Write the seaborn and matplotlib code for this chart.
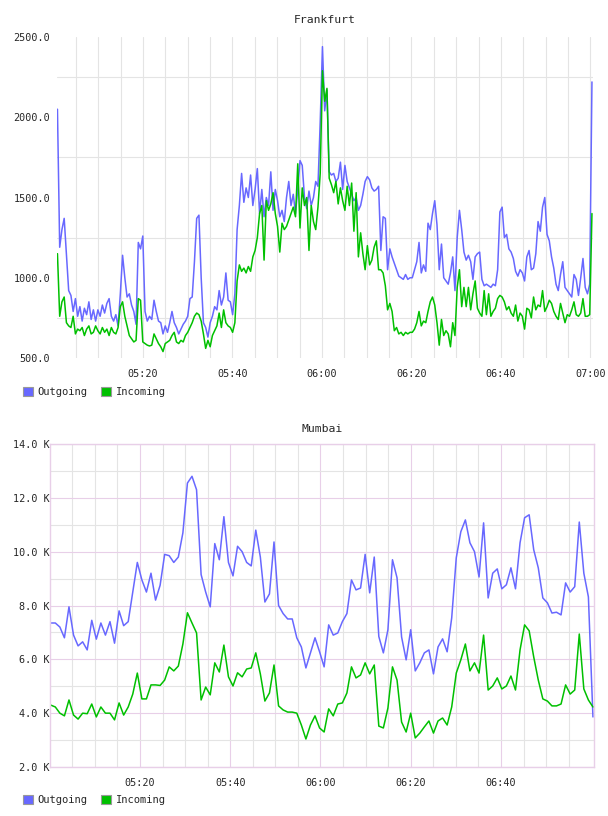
import numpy as np
import pandas as pd
import seaborn as sns
import matplotlib.pyplot as plt
import matplotlib.dates as mdates
from matplotlib.patches import Patch
from matplotlib.ticker import FixedLocator, FuncFormatter

day = '2024-01-01 '

# Frankfurt traffic, one sample every 30 s
fra_start = '05:00:53'
fra_end = '07:00:20'
fra_outgoing = [
    2050, 1190, 1300, 1370, 1150, 920, 890, 790, 870, 760, 820, 730, 810, 770, 850, 740, 800, 730, 800,
    760, 830, 780, 840, 870, 760, 730, 770, 700, 900, 1140, 1000, 880, 900, 830, 790, 710, 1220, 1180, 1260,
    790, 730, 760, 740, 860, 790, 730, 720, 650, 700, 660, 720, 790, 720, 690, 650, 680, 710, 730, 760,
    870, 880, 1100, 1370, 1390, 1000, 720, 690, 630, 720, 760, 820, 800, 920, 830, 880, 1030, 860, 850, 770,
    900, 1300, 1450, 1650, 1470, 1560, 1500, 1640, 1450, 1550, 1680, 1400, 1550, 1380, 1500, 1450, 1660, 1420, 1550, 1480,
    1380, 1420, 1350, 1500, 1600, 1450, 1520, 1400, 1550, 1730, 1700, 1500, 1430, 1540, 1450, 1500, 1600, 1570, 1970, 2440,
    2040, 2170, 1660, 1640, 1650, 1600, 1620, 1720, 1550, 1700, 1600, 1560, 1520, 1480, 1500, 1420, 1450, 1520, 1600, 1630,
    1610, 1560, 1540, 1550, 1570, 1170, 1380, 1370, 1050, 1180, 1130, 1090, 1050, 1010, 1000, 990, 1020, 990, 1000, 1000,
    1050, 1100, 1220, 1030, 1080, 1040, 1340, 1300, 1400, 1480, 1330, 1050, 1210, 1000, 980, 960, 1030, 1130, 920, 1250,
    1420, 1300, 1160, 1110, 1140, 1100, 990, 1130, 1150, 1160, 990, 950, 960, 950, 940, 960, 950, 1050, 1410, 1440,
    1250, 1270, 1180, 1160, 1120, 1040, 1010, 1050, 1030, 980, 1130, 1170, 1050, 1060, 1150, 1350, 1290, 1440, 1500, 1270,
    1230, 1130, 1060, 960, 920, 1020, 1100, 940, 920, 900, 880, 1020, 990, 890, 1000, 1120, 940, 900, 960, 2220,
]
fra_incoming = [
    1150, 760, 850, 880, 720, 700, 690, 760, 650, 680, 670, 690, 640, 680, 700, 650, 660, 700, 670,
    650, 690, 660, 680, 640, 690, 660, 650, 690, 820, 850, 760, 700, 640, 620, 600, 610, 870, 860, 600,
    590, 580, 575, 580, 650, 620, 590, 570, 540, 590, 600, 610, 640, 660, 600, 590, 610, 600, 640, 660,
    690, 720, 760, 780, 770, 730, 650, 560, 610, 570, 640, 670, 700, 780, 690, 800, 720, 700, 690, 660,
    720, 980, 1080, 1040, 1060, 1030, 1070, 1040, 1130, 1170, 1250, 1400, 1450, 1110, 1480, 1420, 1460, 1530, 1400, 1320,
    1160, 1340, 1300, 1320, 1360, 1400, 1440, 1380, 1710, 1310, 1560, 1450, 1500, 1170, 1450, 1350, 1300, 1440, 1650, 2290,
    2100, 2180, 1620, 1580, 1530, 1600, 1460, 1560, 1480, 1420, 1570, 1450, 1590, 1290, 1530, 1130, 1280, 1150, 1050, 1200,
    1080, 1110, 1190, 1230, 1050, 1050, 1030, 950, 800, 840, 790, 670, 690, 650, 660, 640, 660, 650, 660, 660,
    680, 720, 790, 700, 730, 720, 790, 850, 880, 830, 720, 580, 740, 640, 670, 650, 570, 720, 640, 940,
    1050, 820, 940, 820, 940, 800, 900, 980, 810, 780, 760, 920, 770, 900, 760, 790, 810, 870, 890, 880,
    850, 800, 820, 780, 760, 830, 730, 780, 760, 680, 810, 800, 750, 880, 800, 830, 820, 920, 790, 820,
    860, 840, 790, 760, 740, 840, 780, 720, 770, 760, 800, 850, 770, 760, 780, 870, 760, 760, 770, 1400,
]

# Mumbai traffic, one sample per minute, in thousands
mum_start = '05:00:13'
mum_end = '07:00:23'
mum_outgoing = [
    7.35, 7.35, 7.2, 6.8, 7.95, 6.9, 6.5, 6.65, 6.35, 7.45,
    6.75, 7.35, 6.9, 7.4, 6.6, 7.8, 7.25, 7.4, 8.5, 9.6,
    8.95, 8.5, 9.2, 8.2, 8.75, 9.9, 9.85, 9.6, 9.8, 10.7,
    12.55, 12.8, 12.3, 9.15, 8.5, 7.95, 10.3, 9.7, 11.3, 9.6,
    9.1, 10.2, 10.0, 9.6, 9.47, 10.8, 9.8, 8.13, 8.43, 10.36,
    8.0, 7.7, 7.5, 7.5, 6.8, 6.46, 5.68, 6.24, 6.8, 6.28,
    5.72, 7.28, 6.9, 6.98, 7.4, 7.7, 8.95, 8.58, 8.65, 9.9,
    8.47, 9.8, 6.85, 6.24, 7.1, 9.7, 9.03, 6.83, 5.98, 7.1,
    5.57, 5.87, 6.24, 6.35, 5.46, 6.46, 6.76, 6.28, 7.54, 9.77,
    10.74, 11.18, 10.33, 10.0, 9.06, 11.07, 8.28, 9.2, 9.36, 8.62,
    8.77, 9.4, 8.62, 10.33, 11.26, 11.37, 10.07, 9.4, 8.28, 8.1,
    7.72, 7.75, 7.65, 8.84, 8.5, 8.7, 11.1, 9.2, 8.32, 3.86,
]
mum_incoming = [
    4.3, 4.23, 4.0, 3.9, 4.49, 3.93, 3.78, 4.0, 3.98, 4.34,
    3.86, 4.23, 4.0, 4.0, 3.75, 4.38, 3.93, 4.23, 4.71, 5.49,
    4.53, 4.53, 5.05, 5.05, 5.03, 5.23, 5.72, 5.57, 5.75, 6.57,
    7.73, 7.35, 6.98, 4.49, 4.97, 4.68, 5.87, 5.53, 6.53, 5.35,
    5.01, 5.5, 5.35, 5.64, 5.68, 6.24, 5.46, 4.45, 4.75, 5.79,
    4.27, 4.12, 4.04, 4.04, 4.0, 3.56, 3.04, 3.56, 3.9, 3.45,
    3.3, 4.16, 3.9, 4.34, 4.38, 4.75, 5.72, 5.31, 5.42, 5.87,
    5.46, 5.79, 3.52, 3.45, 4.19, 5.72, 5.23, 3.67, 3.3, 4.0,
    3.08, 3.26, 3.49, 3.71, 3.26, 3.71, 3.82, 3.56, 4.23, 5.49,
    5.98, 6.57, 5.57, 5.87, 5.49, 6.9, 4.86, 5.01, 5.31, 4.9,
    5.01, 5.38, 4.86, 6.35, 7.28, 7.06, 6.09, 5.23, 4.53, 4.45,
    4.27, 4.27, 4.34, 5.05, 4.71, 4.86, 6.94, 4.9, 4.49, 4.23,
]

series = ['Outgoing', 'Incoming']
colors = ['#6868ff', '#00c000']
fra_ticks = ['05:20', '05:40', '06:00', '06:20', '06:40', '07:00']
mum_ticks = ['05:20', '05:40', '06:00', '06:20', '06:40']
fra_yticks = [500, 1000, 1500, 2000, 2500]
fra_ygrid = [750, 1250, 1750, 2250]
mum_yticks = [2, 4, 6, 8, 10, 12, 14]
mum_ygrid = [3, 5, 7, 9, 11, 13]

sns.set_style('white')
plt.rcParams['font.family'] = ['DejaVu Sans Mono']
plt.rcParams['font.size'] = 7.3

grey = '#e4e4e4'
pink = '#e8cfe8'
W, H = 608, 816


def to_long(start, end, out, inc):
    df = pd.DataFrame({'time': pd.date_range(day + start, day + end, periods=len(out)),
                       'Outgoing': out, 'Incoming': inc})
    return df.melt('time', var_name='series', value_name='value')


def ts(s):
    return mdates.date2num(pd.Timestamp(day + s))


fig = plt.figure(figsize=(W / 100, H / 100), dpi=100)

# ---------- Frankfurt ----------
ax1 = fig.add_axes([57 / W, 1 - 358 / H, (593 - 57) / W, (358 - 37) / H])
sns.lineplot(data=to_long(fra_start, fra_end, fra_outgoing, fra_incoming),
             x='time', y='value', hue='series', hue_order=series, palette=colors,
             estimator=None, errorbar=None, linewidth=1.1, legend=False, ax=ax1)
ax1.set_xlim(ts('05:00:47'), ts('07:00:34'))
ax1.set_ylim(500, 2500)
ax1.xaxis.set_major_locator(FixedLocator([ts(t) for t in fra_ticks]))
ax1.xaxis.set_major_formatter(mdates.DateFormatter('%H:%M'))
ax1.xaxis.set_minor_locator(mdates.MinuteLocator(byminute=range(0, 60, 5)))
ax1.yaxis.set_major_locator(FixedLocator(fra_yticks))
ax1.yaxis.set_minor_locator(FixedLocator(fra_ygrid))
ax1.yaxis.set_major_formatter(FuncFormatter(lambda v, p: f'{v:.1f}'))
ax1.grid(True, which='both', axis='x', color=grey, lw=0.8)
ax1.grid(True, which='minor', axis='y', color=grey, lw=0.8)
ax1.grid(False, which='major', axis='y')
for s in ax1.spines.values():
    s.set_visible(False)
ax1.tick_params(which='both', length=0)
ax1.tick_params(axis='y', pad=5)
ax1.tick_params(axis='x', pad=8)
ax1.set_xlabel('')
ax1.set_ylabel('')
ax1.set_title('Frankfurt', fontsize=8.2, pad=10)

# ---------- Mumbai ----------
ax2 = fig.add_axes([50 / W, 1 - 767 / H, (594 - 50) / W, (767 - 444) / H])
sns.lineplot(data=to_long(mum_start, mum_end, mum_outgoing, mum_incoming),
             x='time', y='value', hue='series', hue_order=series, palette=colors,
             estimator=None, errorbar=None, linewidth=1.1, legend=False, ax=ax2)
ax2.set_xlim(ts('05:00:03'), ts('07:00:37'))
ax2.set_ylim(2, 14)
ax2.xaxis.set_major_locator(FixedLocator([ts(t) for t in mum_ticks]))
ax2.xaxis.set_major_formatter(mdates.DateFormatter('%H:%M'))
ax2.xaxis.set_minor_locator(FixedLocator(
    mdates.date2num(pd.date_range(day + '05:05', day + '06:55', freq='5min'))))
ax2.yaxis.set_major_locator(FixedLocator(mum_yticks))
ax2.yaxis.set_minor_locator(FixedLocator(mum_ygrid))
ax2.yaxis.set_major_formatter(FuncFormatter(lambda v, p: f'{v:.1f} K'))
ax2.grid(True, which='minor', color=grey, lw=0.8)
ax2.grid(True, which='major', color=pink, lw=0.8)
for s in ax2.spines.values():
    s.set_color(pink)
    s.set_linewidth(1.0)
ax2.tick_params(which='both', length=0)
ax2.tick_params(axis='y', pad=0.5)
ax2.tick_params(axis='x', pad=8)
ax2.set_xlabel('')
ax2.set_ylabel('')
ax2.set_title('Mumbai', fontsize=8.2, pad=9)

# ---------- legends ----------
handles = [Patch(facecolor=c, edgecolor='#999999', lw=0.8) for c in colors]
for ypos in [1 - 392 / H, 1 - 800 / H]:
    fig.legend(handles, series, loc='center left', bbox_to_anchor=(23 / W, ypos),
               ncol=2, frameon=False, fontsize=7.5, handlelength=0.95, handleheight=0.95,
               handletextpad=0.45, columnspacing=1.3, borderpad=0, borderaxespad=0)

fig.savefig('out.png', dpi=100)
